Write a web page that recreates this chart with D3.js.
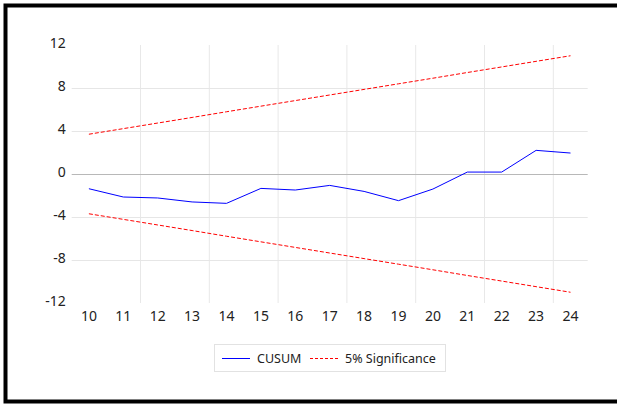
<!DOCTYPE html>
<html>
<head>
<meta charset="utf-8">
<script src="https://cdn.jsdelivr.net/npm/d3@7"></script>
<style>
  html, body { margin: 0; padding: 0; background: #fff; }
  svg { display: block; font-family: "Noto Sans", "Open Sans", sans-serif; }
</style>
</head>
<body>
<svg id="chart" width="617" height="405"></svg>
<script>
// Recursive residual CUSUM test with 5% significance bounds
const periods = ["10","11","12","13","14","15","16","17","18","19","20","21","22","23","24"];
const cusum = [-1.37, -2.14, -2.23, -2.6, -2.73, -1.34, -1.49, -1.06, -1.62, -2.48, -1.4, 0.18, 0.18, 2.2, 1.95];
const upperBound = [3.70, 4.22, 4.74, 5.26, 5.79, 6.31, 6.83, 7.35, 7.87, 8.39, 8.91, 9.44, 9.96, 10.48, 11.00];
const lowerBound = [-3.70, -4.22, -4.74, -5.26, -5.79, -6.31, -6.83, -7.35, -7.87, -8.39, -8.91, -9.44, -9.96, -10.48, -11.00];
const yTicks = [-12, -8, -4, 0, 4, 8, 12];
const legendItems = ["CUSUM", "5% Significance"];

const svg = d3.select("#chart");

// outer frame
svg.append("rect")
  .attr("x", 5.5).attr("y", 5.5)
  .attr("width", 640).attr("height", 396)
  .attr("fill", "none").attr("stroke", "#000").attr("stroke-width", 4);

const plot = { left: 71.7, right: 587.7, top: 45, bottom: 303 };

const x = d3.scaleBand().domain(periods).range([plot.left, plot.right]);
const xc = d => x(d) + x.bandwidth() / 2;
const y = d3.scaleLinear().domain([-12, 12]).range([plot.bottom, plot.top]);

// vertical grid lines at every second band boundary
const vBounds = d3.range(2, periods.length, 2).map(i => plot.left + i * x.step());
svg.append("g").selectAll("line").data(vBounds).join("line")
  .attr("x1", d => d).attr("x2", d => d)
  .attr("y1", plot.top).attr("y2", plot.bottom)
  .attr("stroke", "#e8e8e8").attr("stroke-width", 1);

// horizontal grid lines
svg.append("g").selectAll("line").data(yTicks.filter(t => Math.abs(t) < 12)).join("line")
  .attr("x1", plot.left).attr("x2", plot.right)
  .attr("y1", d => Math.round(y(d)) + 0.5).attr("y2", d => Math.round(y(d)) + 0.5)
  .attr("stroke", d => d === 0 ? "#b8b8b8" : "#e6e6e6").attr("stroke-width", 1);

// y axis labels (plain hyphen for negatives)
const yAxis = svg.append("g")
  .attr("transform", `translate(${plot.left},-1.5)`)
  .call(d3.axisLeft(y).tickValues(yTicks).tickSize(0).tickPadding(6).tickFormat(d => String(d)));
yAxis.select(".domain").remove();
yAxis.selectAll("text").attr("font-size", 14).attr("fill", "#222")
  .attr("font-family", "'Noto Sans', sans-serif");

// x axis labels
const xAxis = svg.append("g")
  .attr("transform", `translate(0,${plot.bottom})`)
  .call(d3.axisBottom(x).tickSize(0).tickPadding(8));
xAxis.select(".domain").remove();
xAxis.selectAll("text").attr("font-size", 14).attr("fill", "#222")
  .attr("font-family", "'Noto Sans', sans-serif");

const line = d3.line().x((d, i) => xc(periods[i])).y(d => y(d));

// significance bounds
[upperBound, lowerBound].forEach(b => {
  svg.append("path").datum(b)
    .attr("d", line)
    .attr("fill", "none").attr("stroke", "#ff0000")
    .attr("stroke-width", 1).attr("stroke-dasharray", "4,2");
});

// CUSUM series
svg.append("path").datum(cusum)
  .attr("d", line)
  .attr("fill", "none").attr("stroke", "#0000ff").attr("stroke-width", 1);

// legend
const lg = svg.append("g");
lg.append("rect")
  .attr("x", 214.5).attr("y", 344.5).attr("width", 231).attr("height", 27)
  .attr("fill", "#fff").attr("stroke", "#e2e2e2");
const ly = 358.5;
lg.append("line").attr("x1", 222).attr("x2", 250).attr("y1", ly).attr("y2", ly)
  .attr("stroke", "#0000ff").attr("stroke-width", 1);
lg.append("text").attr("x", 257).attr("y", ly + 4.5).text(legendItems[0])
  .attr("font-size", 12.5).attr("fill", "#222");
lg.append("line").attr("x1", 310).attr("x2", 338).attr("y1", ly).attr("y2", ly)
  .attr("stroke", "#ff0000").attr("stroke-width", 1).attr("stroke-dasharray", "3,2");
lg.append("text").attr("x", 345).attr("y", ly + 4.5).text(legendItems[1])
  .attr("font-size", 12.5).attr("fill", "#222");
</script>
</body>
</html>
